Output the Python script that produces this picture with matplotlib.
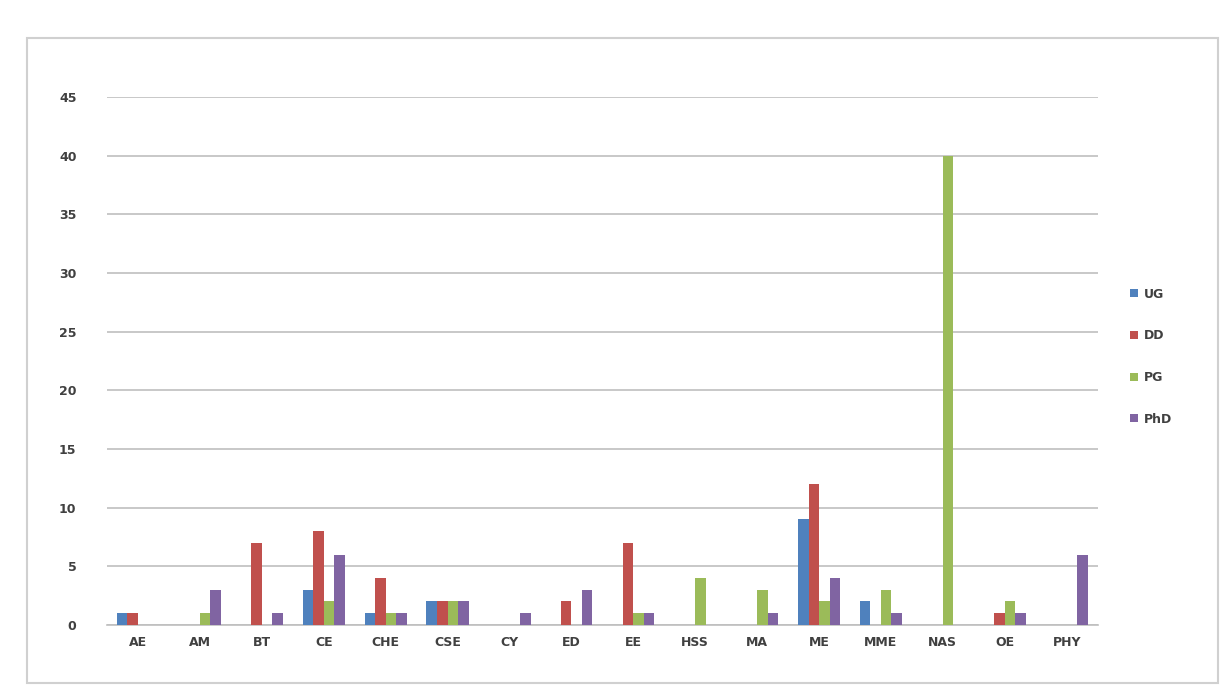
import numpy as np
import matplotlib.pyplot as plt
from matplotlib.patches import Rectangle

depts = ["AE", "AM", "BT", "CE", "CHE", "CSE", "CY", "ED",
         "EE", "HSS", "MA", "ME", "MME", "NAS", "OE", "PHY"]
ug  = [1, 0, 0, 3, 1, 2, 0, 0, 0, 0, 0, 9, 2, 0, 0, 0]
dd  = [1, 0, 7, 8, 4, 2, 0, 2, 7, 0, 0, 12, 0, 0, 1, 0]
pg  = [0, 1, 0, 2, 1, 2, 0, 0, 1, 4, 3, 2, 3, 40, 2, 0]
phd = [0, 3, 1, 6, 1, 2, 1, 3, 1, 0, 1, 4, 1, 0, 1, 6]

series = [("UG", ug, "#4F81BD"), ("DD", dd, "#C0504D"),
          ("PG", pg, "#9BBB59"), ("PhD", phd, "#8064A2")]

fig = plt.figure(figsize=(12.23, 6.86), dpi=100)
ax = fig.add_axes([0.0875, 0.089, 0.81, 0.7696])

x = np.arange(len(depts))
w = 0.17
for i, (name, vals, col) in enumerate(series):
    ax.bar(x + (i - 1.5) * w, vals, width=w, color=col, label=name, zorder=3)

ax.set_xlim(-0.5, len(depts) - 0.5)
ax.set_ylim(0, 45)
ax.set_yticks(range(0, 46, 5))
ax.set_xticks(x)
ax.set_xticklabels(depts)
ax.tick_params(axis="both", length=0, labelsize=9, colors="#404040", pad=8)
ax.tick_params(axis="y", pad=22)
for lbl in ax.get_xticklabels() + ax.get_yticklabels():
    lbl.set_fontweight("bold")

ax.grid(axis="y", color="#BFBFBF", linewidth=1.2, zorder=0)
for side in ["top", "right", "left"]:
    ax.spines[side].set_visible(False)
ax.spines["bottom"].set_color("#BFBFBF")
ax.spines["bottom"].set_linewidth(1.2)

leg = fig.legend(loc="center left", bbox_to_anchor=(0.915, 0.48), frameon=False,
                 fontsize=9, handlelength=0.6, handleheight=0.6,
                 labelspacing=2.3, handletextpad=0.5)
for t in leg.get_texts():
    t.set_color("#404040")
    t.set_fontweight("bold")

# chart border
fig.patches.append(Rectangle((0.022, 0.005), 0.974, 0.94, transform=fig.transFigure,
                             fill=False, edgecolor="#D0D0D0", linewidth=1.5))

fig.savefig("out.png", dpi=100)
